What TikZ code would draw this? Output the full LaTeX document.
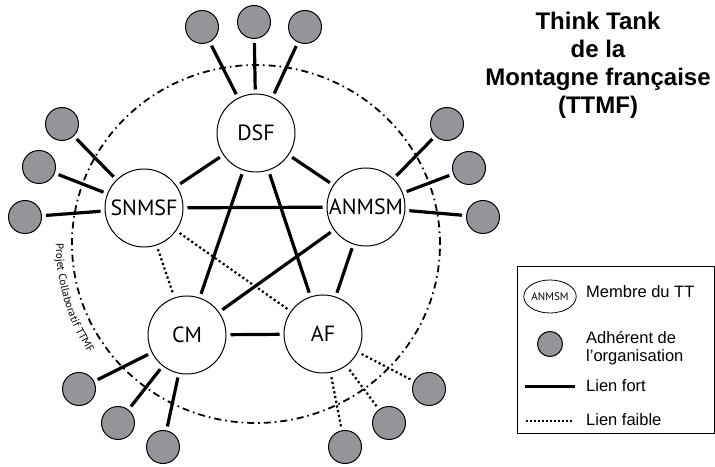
\documentclass[tikz,border=0pt]{standalone}
\usepackage{fontspec}
\usepackage{tikz}
\usetikzlibrary{shapes.geometric}
\usetikzlibrary{decorations.text}

\newfontfamily\labelfont{PT Sans}
\newfontfamily\titlefont{Liberation Sans}
\definecolor{satgray}{RGB}{147,149,152}

\begin{document}
\begin{tikzpicture}[x=1pt,y=1pt,
    membre/.style={shape=circle,draw=black,fill=white,line width=1pt,minimum size=78pt,inner sep=0pt,font=\labelfont\fontsize{22}{24}\selectfont},
    adherent/.style={shape=circle,draw=black,fill=satgray,line width=1pt,minimum size=33pt,inner sep=0pt},
    fort/.style={draw,line width=3.2pt,shorten >=4pt,shorten <=4pt},
    faible/.style={draw,line width=2.2pt,dash pattern=on 2.2pt off 2.6pt,shorten >=4pt,shorten <=4pt},
    legtext/.style={inner sep=0pt,font=\titlefont\fontsize{16.5}{18}\selectfont,align=left}]

    \useasboundingbox (0,0) rectangle (715,466);

    % Collaborative project
    \coordinate (O) at (256,222);
    \draw[line width=1.8pt,dash pattern=on 7pt off 4pt on 1.6pt off 4pt] (O) ellipse [x radius=184,y radius=179];
    \path[decorate,decoration={text along path,text align=center,
        text={|\labelfont\fontsize{11}{12}\selectfont|Projet Collaboratif TTMF}}]
        (O) ++(166:200) arc [start angle=166,end angle=227,radius=200];

    % Member nodes
    \node[membre] (DSF) at (256,333) {DSF};
    \node[membre] (SNMSF) at (144,258) {SNMSF};
    \node[membre] (ANMSM) at (366,259) {ANMSM};
    \node[membre] (CM) at (187,131) {CM};
    \node[membre] (AF) at (323,132) {AF};

    % Adherent nodes
    \node[adherent] (d1) at (202,439) {};
    \node[adherent] (d2) at (254,444) {};
    \node[adherent] (d3) at (305,439) {};
    \node[adherent] (s1) at (62,342) {};
    \node[adherent] (s2) at (39,299) {};
    \node[adherent] (s3) at (25,249) {};
    \node[adherent] (a1) at (447,342) {};
    \node[adherent] (a2) at (469,298) {};
    \node[adherent] (a3) at (483,249) {};
    \node[adherent] (c1) at (79,77) {};
    \node[adherent] (c2) at (118,43) {};
    \node[adherent] (c3) at (163,19) {};
    \node[adherent] (f1) at (429,77) {};
    \node[adherent] (f2) at (389,43) {};
    \node[adherent] (f3) at (345,19) {};

    % Links between members
    \path (DSF) edge[fort] (SNMSF);
    \path (DSF) edge[fort] (ANMSM);
    \path (SNMSF) edge[fort] (ANMSM);
    \path (DSF) edge[fort] (CM);
    \path (DSF) edge[fort] (AF);
    \path (ANMSM) edge[fort] (CM);
    \path (ANMSM) edge[fort] (AF);
    \path (CM) edge[fort] (AF);
    \path (SNMSF) edge[faible] (CM);
    \path (SNMSF) edge[faible] (AF);

    % Links to adherents
    \foreach \s in {d1,d2,d3} \path (\s) edge[fort] (DSF);
    \foreach \s in {s1,s2,s3} \path (\s) edge[fort] (SNMSF);
    \foreach \s in {a1,a2,a3} \path (\s) edge[fort] (ANMSM);
    \foreach \s in {c1,c2,c3} \path (\s) edge[fort] (CM);
    \foreach \s in {f1,f2,f3} \path (\s) edge[faible] (AF);

    % Title
    \node[anchor=north,inner sep=0pt,align=center,font=\titlefont\bfseries\fontsize{24}{28}\selectfont] (titre) at (598,454)
        {Think Tank\\de la\\Montagne française\\(TTMF)};

    % Legend
    \draw[line width=0.8pt] (517,33) rectangle (714,200);
    \node[ellipse,draw=black,line width=0.8pt,minimum width=44pt,minimum height=33pt,inner sep=0pt,font=\labelfont\fontsize{11}{12}\selectfont] (legM) at (550,169.5) {ANMSM};
    \node[legtext,anchor=base west] (txtM) at (586,168) {Membre du TT};
    \node[adherent,minimum size=25pt] (legA) at (550,122) {};
    \node[legtext,anchor=west] (txtA) at (586,118) {Adhérent de\\l’organisation};
    \coordinate (fortA) at (525,79);
    \coordinate (fortB) at (575,79);
    \draw[line width=3pt] (fortA) -- (fortB);
    \node[legtext,anchor=base west] (txtF) at (586,74) {Lien fort};
    \coordinate (faibleA) at (526,45);
    \coordinate (faibleB) at (572,45);
    \draw[line width=1.6pt,dash pattern=on 1.6pt off 2.4pt] (faibleA) -- (faibleB);
    \node[legtext,anchor=base west] (txtf) at (586,40) {Lien faible};

\end{tikzpicture}
\end{document}
